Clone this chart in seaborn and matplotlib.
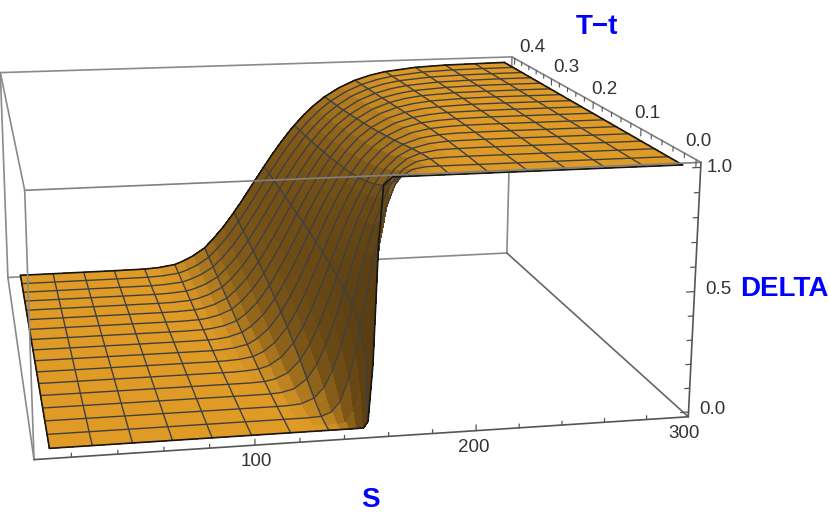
import numpy as np
import matplotlib
matplotlib.use("Agg")
import matplotlib.pyplot as plt
import seaborn as sns
from mpl_toolkits.mplot3d import Axes3D  # noqa

sns.set_theme(style="white")
plt.rcParams["font.family"] = ["Liberation Sans", "DejaVu Sans"]

# ---- values -----------------------------------------------------------
T_VALUES = [0.001, 0.01, 0.026, 0.051, 0.076, 0.101, 0.126, 0.151, 0.176, 0.201,
            0.226, 0.251, 0.276, 0.301, 0.326, 0.351, 0.376, 0.401]
T_MESH = [0.026, 0.051, 0.076, 0.101, 0.126, 0.151, 0.176, 0.201,
          0.226, 0.251, 0.276, 0.301, 0.326, 0.351, 0.376]
S_VALUES = [11, 29.5, 47, 64.5, 82, 90, 99.5, 104, 110, 117, 122, 128, 134.25,
            139, 143, 147, 150, 152, 154, 156, 158, 162, 167, 169.75, 175, 181,
            187.5, 196, 205.25, 214, 223, 240.75, 258.5, 276.25, 294]
S_MESH = [29.5, 47, 64.5, 82, 99.5, 117, 134.25, 152, 169.75, 187.5,
          205.25, 223, 240.75, 258.5, 276.25]
DELTA = [
 [0]*18,
 [0]*18,
 [0]*18,
 [0]*18,
 [0]*16 + [.001, .001],
 [0]*12 + [.001, .001, .002, .003, .004, .005],
 [0]*9 + [.001, .002, .003, .005, .007, .009, .011, .014, .017],
 [0]*7 + [.001, .002, .003, .006, .008, .011, .015, .019, .023, .027, .032],
 [0]*6 + [.002, .004, .007, .010, .015, .020, .026, .032, .038, .044, .050, .057],
 [0]*4 + [.001, .003, .007, .013, .020, .028, .036, .045, .054, .064, .072, .081, .089, .097],
 [0, 0, 0, .001, .004, .011, .020, .032, .044, .056, .068, .080, .092, .103, .114, .123, .133, .142],
 [0, 0, 0, .005, .017, .034, .053, .071, .089, .105, .120, .135, .148, .161, .172, .182, .193, .202],
 [0, 0, .003, .026, .057, .088, .115, .139, .160, .178, .195, .210, .223, .236, .247, .257, .266, .275],
 [0, 0, .019, .071, .118, .156, .185, .210, .231, .249, .264, .277, .289, .301, .311, .319, .328, .335],
 [0, .006, .063, .141, .194, .231, .259, .282, .300, .315, .328, .339, .349, .359, .367, .374, .381, .388],
 [0, .051, .159, .244, .291, .321, .343, .361, .375, .386, .396, .404, .412, .419, .425, .431, .436, .441],
 [.001, .157, .272, .339, .373, .395, .411, .423, .433, .441, .448, .454, .459, .465, .469, .473, .477, .480],
 [.027, .277, .364, .409, .432, .446, .457, .465, .472, .478, .483, .487, .491, .495, .498, .501, .504, .507],
 [.261, .427, .461, .480, .490, .497, .502, .507, .511, .514, .517, .519, .522, .524, .526, .528, .530, .532],
 [.739, .586, .561, .551, .549, .548, .547, .548, .549, .550, .551, .551, .552, .553, .554, .555, .556, .558],
 [.971, .732, .656, .620, .605, .597, .592, .588, .586, .585, .584, .583, .582, .582, .582, .582, .582, .582],
 [1, .919, .812, .742, .709, .688, .674, .664, .657, .651, .647, .642, .639, .636, .635, .632, .631, .630],
 [1, .991, .930, .858, .814, .785, .764, .748, .736, .726, .718, .711, .704, .699, .695, .691, .688, .685],
 [1, .998, .963, .903, .860, .829, .806, .788, .774, .762, .753, .744, .737, .731, .725, .721, .717, .713],
 [1, 1, .991, .957, .923, .894, .871, .852, .836, .823, .812, .802, .792, .785, .778, .772, .767, .762],
 [1, 1, .999, .986, .965, .943, .923, .906, .890, .877, .866, .855, .845, .837, .829, .822, .816, .810],
 [1, 1, 1, .996, .986, .973, .959, .945, .932, .920, .909, .899, .890, .881, .873, .866, .860, .854],
 [1, 1, 1, .999, .997, .991, .983, .975, .966, .957, .948, .940, .932, .924, .917, .911, .904, .898],
 [1, 1, 1, 1, .999, .998, .994, .990, .985, .979, .973, .967, .961, .955, .949, .944, .938, .933],
 [1, 1, 1, 1, 1, .999, .998, .996, .993, .990, .986, .982, .978, .973, .969, .965, .960, .956],
 [1, 1, 1, 1, 1, 1, .999, .999, .997, .996, .993, .991, .988, .985, .982, .979, .975, .972],
 [1]*9 + [.999, .999, .998, .997, .995, .994, .992, .991, .989],
 [1]*12 + [.999, .999, .998, .997, .997, .996],
 [1]*15 + [.999, .999, .998],
 [1]*18,
]
S_TICKS = [20, 40, 60, 80, 100, 120, 140, 160, 180, 200, 220, 240, 260, 280, 300]
T_TICKS = [0, .02, .04, .06, .08, .1, .12, .14, .16, .18, .2, .22, .24, .26, .28, .3, .32, .34, .36, .38, .4]
Z_TICKS = [0, .1, .2, .3, .4, .5, .6, .7, .8, .9, 1]

# ---- layout ------------------------------------------------------------
W, H = 830, 526
S_BOX = (4.0, 300.0)
T_BOX = (-0.008, 0.408)
Z_BOX = (-0.02, 1.02)
# box corners: (left/right along S, front/back along T, bottom/top) -> image pixel
CORNERS = {(0, 0, 0): (34, 460), (1, 0, 0): (688, 417), (1, 1, 0): (507, 253), (0, 1, 0): (8, 277),
           (0, 0, 1): (25, 190), (1, 0, 1): (701, 162), (1, 1, 1): (512, 57), (0, 1, 1): (0, 73)}

fig = plt.figure(figsize=(W / 100, H / 100), dpi=100, facecolor="white")
ax = fig.add_axes([0, (H - W) / 2 / H, 1, W / H], projection="3d", computed_zorder=False)
ax.set_axis_off()
ax.patch.set_alpha(0)

def camera():
    rows = []
    for (u, v, w), (x, y) in CORNERS.items():
        p = [u, v, w, 1]
        rows.append(p + [0, 0, 0, 0] + [-x * c for c in p])
        rows.append([0, 0, 0, 0] + p + [-y * c for c in p])
    P = np.linalg.svd(np.array(rows, float))[2][-1].reshape(3, 4)
    if (P[2] @ np.array([.5, .5, .5, 1])) < 0:
        P = -P
    D = np.array([[1 / (S_BOX[1] - S_BOX[0]), 0, 0, -S_BOX[0] / (S_BOX[1] - S_BOX[0])],
                  [0, 1 / (T_BOX[1] - T_BOX[0]), 0, -T_BOX[0] / (T_BOX[1] - T_BOX[0])],
                  [0, 0, 1 / (Z_BOX[1] - Z_BOX[0]), -Z_BOX[0] / (Z_BOX[1] - Z_BOX[0])],
                  [0, 0, 0, 1]])
    flip = np.array([[1, 0, 0], [0, -1, H], [0, 0, 1.0]])
    ax.apply_aspect()
    A = ax.transData.inverted().get_matrix()
    Q = A @ flip @ P @ D
    depth = np.array([0, 0, 0, -1.0])
    return np.vstack([Q[0], Q[1], depth, Q[2]])

def soften(a):
    """Even out the facet colours so the wall reads as smooth shading."""
    k = np.array([1, 2, 1]) / 4
    for axis in (0, 1):
        p = np.pad(a, [(1, 1) if i == axis else (0, 0) for i in (0, 1)], mode="edge")
        a = np.apply_along_axis(lambda r: np.convolve(r, k, mode="valid"), axis, p)
    return a

# ---- surface -----------------------------------------------------------
S = np.array(S_VALUES, float)
T = np.array(T_VALUES, float)
Z = np.array(DELTA, float)
SS, TT = np.meshgrid(S, T, indexing="ij")

u = (SS - S_BOX[0]) / (S_BOX[1] - S_BOX[0]) * 1.0
v = (TT - T_BOX[0]) / (T_BOX[1] - T_BOX[0]) * 0.7
w = Z * 0.6
d1 = np.stack([u[1:, 1:] - u[:-1, :-1], v[1:, 1:] - v[:-1, :-1], w[1:, 1:] - w[:-1, :-1]], -1)
d2 = np.stack([u[1:, :-1] - u[:-1, 1:], v[1:, :-1] - v[:-1, 1:], w[1:, :-1] - w[:-1, 1:]], -1)
n = np.cross(d1, d2)
nz = np.abs(n[..., 2]) / np.linalg.norm(n, axis=-1)
shade = soften(soften(np.clip((nz - 0.1) / 0.9, 0, 1) ** 1.3))
cmap = sns.blend_palette(["#5A3E12", "#E09B26"], as_cmap=True)
ax.plot_surface(SS, TT, Z, rstride=1, cstride=1, facecolors=cmap(shade), shade=False,
                linewidth=0.3, antialiased=False, zorder=3, clip_on=False)

def line(xs, ys, zs, color, lw, z):
    ax.plot(xs, ys, zs, color=color, lw=lw, zorder=z, clip_on=False, solid_capstyle="round")

# mesh
MESH = "#404040"
for t in T_MESH:
    j = T_VALUES.index(t)
    line(S, [t] * len(S), Z[:, j], MESH, 1.0, 4)
for s in S_MESH:
    i = S_VALUES.index(s)
    line([s] * len(T), T, Z[i], MESH, 1.0, 4)
# boundary
EDGE = "#151515"
line(S, [T[0]] * len(S), Z[:, 0], EDGE, 1.2, 5)
line(S, [T[-1]] * len(S), Z[:, -1], EDGE, 1.2, 5)
line([S[0]] * len(T), T, Z[0], EDGE, 1.2, 5)
line([S[-1]] * len(T), T, Z[-1], EDGE, 1.2, 5)

# box
s0, s1 = S_BOX; t0, t1 = T_BOX; z0, z1 = Z_BOX
GREY = "#8A8A8A"
DARK = "#555555"
back = [((s0, t1, z0), (s1, t1, z0)), ((s0, t1, z0), (s0, t1, z1)), ((s1, t1, z0), (s1, t1, z1)),
        ((s0, t1, z1), (s1, t1, z1)), ((s0, t0, z0), (s0, t1, z0))]
for a, b in back:
    line(*zip(a, b), GREY, 1.2, 1)
line(*zip((s1, t0, z0), (s1, t1, z0)), "#666666", 1.2, 1)
front = [((s0, t0, z1), (s1, t0, z1), "#808080"), ((s0, t0, z0), (s0, t0, z1), GREY),
         ((s0, t0, z1), (s0, t1, z1), GREY), ((s1, t0, z1), (s1, t1, z1), "#808080"),
         ((s0, t0, z0), (s1, t0, z0), DARK), ((s1, t0, z0), (s1, t0, z1), DARK)]
for a, b, c in front:
    line(*zip(a, b), c, 1.2, 6)

# ticks
for s in S_TICKS:
    L = 0.024 if s % 100 == 0 else 0.016
    line([s, s], [t0, t0], [z0, z0 + L], DARK, 0.9, 6)
for t in T_TICKS:
    L = 0.03 if round(t * 100) % 10 == 0 else 0.018
    line([s1, s1], [t, t], [z1, z1 - L], DARK, 0.8, 6)
for z in Z_TICKS:
    L = 3.8 if round(z * 10) % 5 == 0 else 2.4
    line([s1, s1 - L], [t0, t0], [z, z], DARK, 0.9, 6)

# text
def label(x, y, s, **kw):
    fig.text(x / W, 1 - y / H, s, ha="center", va="center", **kw)
TICK = dict(fontsize=13.5, color="#333333")
for x, y, s in [(256, 462, "100"), (474, 447, "200"), (684, 434, "300"),
                (712, 409, "0.0"), (718, 289, "0.5"), (720, 167, "1.0"),
                (698, 141, "0.0"), (647, 113, "0.1"), (604, 89, "0.2"),
                (566, 67, "0.3"), (532, 47, "0.4")]:
    label(x, y, s, **TICK)
AX = dict(fontsize=20, color="#0000FF", fontweight="bold")
label(784, 289, "DELTA", **AX)
label(597, 27, "T\u2212t", **AX)
label(370, 500, "S", **AX)

ax.set_xlim(S_BOX); ax.set_ylim(T_BOX); ax.set_zlim(Z_BOX)
M = camera()
ax.get_proj = lambda: M

fig.savefig("out.png", dpi=100)
